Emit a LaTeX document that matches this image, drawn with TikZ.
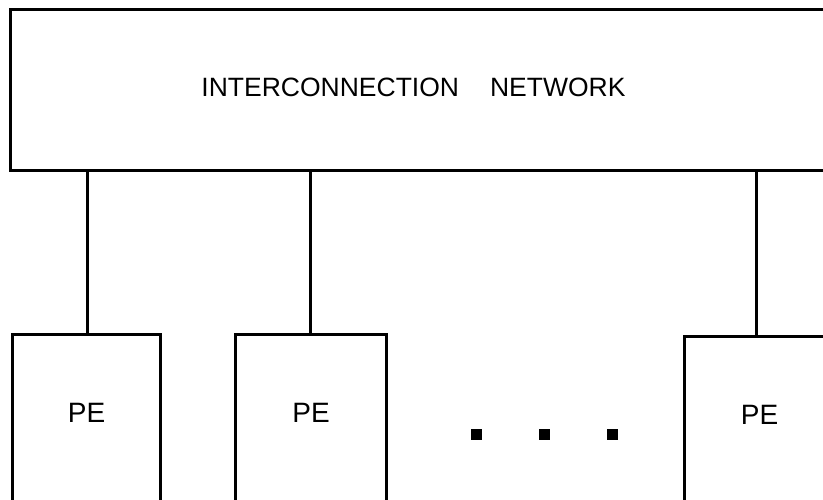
\documentclass[tikz,border=0pt]{standalone}
\usepackage{fontspec}
\setmainfont{Liberation Sans}
\usetikzlibrary{positioning}

\begin{document}
\begin{tikzpicture}[
  x=1pt, y=-1pt,
  wire/.style={line width=2.8pt},
  box/.style={draw, line width=2.8pt, inner sep=0pt, outer sep=0pt, anchor=north west},
  netbox/.style={box, minimum width=840pt, minimum height=161pt},
  pebox/.style={box, minimum height=190pt},
  nettext/.style={font=\fontsize{26.5}{29}\selectfont},
  petext/.style={font=\fontsize{28}{30}\selectfont, yshift=17pt},
  gapdot/.style={fill, minimum size=11pt, inner sep=0pt}
]
\clip (0,0) rectangle (823,499);

% Network across the top
\node[netbox] (net) at (10.5,9.5) {};
\node[nettext] (netlabel) at (413.5,87.5) {INTERCONNECTION\hspace{31pt}NETWORK};

% Processing elements
\node[pebox, minimum width=148pt, label={[petext]center:PE}] (pe1) at (12.5,334.7) {};
\node[pebox, minimum width=151pt, label={[petext]center:PE}] (pe2) at (235.5,334.7) {};
\node[pebox, minimum width=150pt, label={[petext]center:PE}] (pe3) at (684.5,336.5) {};

% Links to the network
\draw[wire] ([xshift=1pt]pe1.north) -- ([xshift=1pt]pe1.north |- net.south);
\draw[wire] ([xshift=-0.5pt]pe2.north) -- ([xshift=-0.5pt]pe2.north |- net.south);
\draw[wire] ([xshift=-3pt]pe3.north) -- ([xshift=-3pt]pe3.north |- net.south);

% Ellipsis between the elements
\foreach \x [count=\i] in {476,544,612}
  \node[gapdot] (dot\i) at (\x,434) {};

\end{tikzpicture}
\end{document}
